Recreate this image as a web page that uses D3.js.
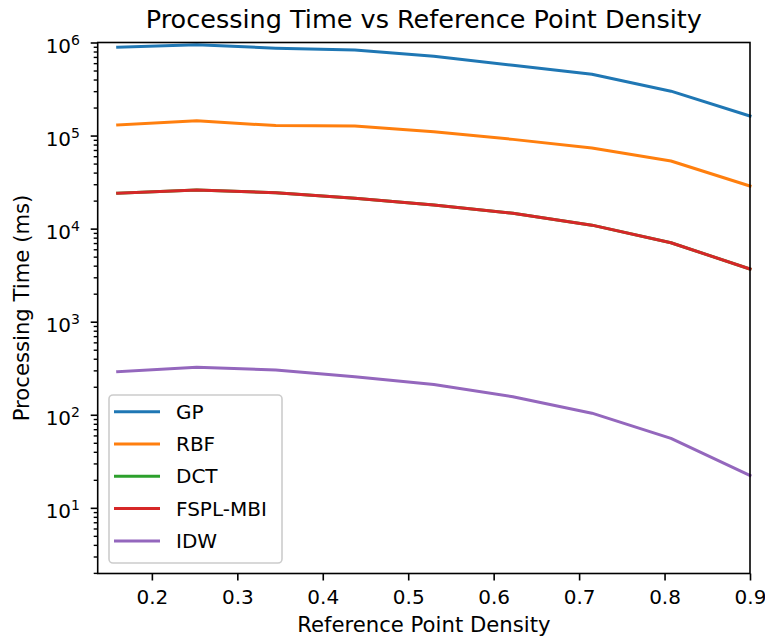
<!DOCTYPE html>
<html>
<head>
<meta charset="utf-8">
<script src="https://cdn.jsdelivr.net/npm/d3@7"></script>
<style>
  body { margin: 0; background: #fff; }
  text { font-family: "DejaVu Sans", sans-serif; fill: #000; }
</style>
</head>
<body>
<script>
const width = 765;
const height = 638;
const margin = ({top: 42.5, right: 15, bottom: 64.5, left: 97.7});

// x values (reference point density)
const density = [0.16, 0.2525, 0.345, 0.4375, 0.53, 0.6225, 0.715, 0.8075, 0.9];

// processing time (ms) per method
const gp   = [8.9e5, 9.45e5, 8.7e5, 8.3e5, 7.1e5, 5.7e5, 4.55e5, 3.0e5, 1.62e5];
const rbf  = [1.30e5, 1.44e5, 1.28e5, 1.27e5, 1.10e5, 9.1e4, 7.35e4, 5.33e4, 2.87e4];
const dct  = [2.40e4, 2.60e4, 2.43e4, 2.12e4, 1.79e4, 1.46e4, 1.09e4, 7.06e3, 3.68e3];
const fspl = [2.40e4, 2.60e4, 2.43e4, 2.12e4, 1.79e4, 1.46e4, 1.09e4, 7.06e3, 3.68e3];
const idw  = [290, 324, 303, 256, 212, 156, 104, 55.8, 22.3];

const seriesNames = ["GP", "RBF", "DCT", "FSPL-MBI", "IDW"];
const seriesValues = [gp, rbf, dct, fspl, idw];
const colors = ["#1f77b4", "#ff7f0e", "#2ca02c", "#d62728", "#9467bd"];

const xTicks = [0.2, 0.3, 0.4, 0.5, 0.6, 0.7, 0.8, 0.9];
const yExponents = [1, 2, 3, 4, 5, 6];

const svg = d3.select("body")
  .append("svg")
  .attr("width", width)
  .attr("height", height);

svg.append("rect").attr("width", width).attr("height", height).attr("fill", "#fff");

const x = d3.scaleLinear()
  .domain([0.1366, 0.9])
  .range([margin.left, width - margin.right]);

const y = d3.scaleLog()
  .domain([1.97, 1e6])
  .range([height - margin.bottom, margin.top]);

// lines
const line = d3.line()
  .x((d, i) => x(density[i]))
  .y(d => y(d));

svg.append("g")
  .selectAll("path")
  .data(seriesValues)
  .join("path")
  .attr("d", d => line(d))
  .attr("fill", "none")
  .attr("stroke", (d, i) => colors[i])
  .attr("stroke-width", 3)
  .attr("stroke-linejoin", "round")
  .attr("stroke-linecap", "square");

// minor ticks on log axis
const minorTicks = [];
for (let e = 0; e <= 5; e++) {
  for (let m = 2; m <= 9; m++) {
    const v = m * Math.pow(10, e);
    if (v >= 1.97 && v <= 1e6) minorTicks.push(v);
  }
}

svg.append("g")
  .attr("transform", `translate(${margin.left},0)`)
  .call(d3.axisLeft(y).tickValues(minorTicks).tickSize(4).tickFormat(""))
  .call(g => g.select(".domain").remove())
  .call(g => g.selectAll("line").attr("stroke", "#000").attr("stroke-width", 1.4));

const yAxis = svg.append("g")
  .attr("transform", `translate(${margin.left},0)`)
  .call(d3.axisLeft(y).tickValues(yExponents.map(e => Math.pow(10, e))).tickSize(7).tickFormat(""))
  .call(g => g.select(".domain").remove())
  .call(g => g.selectAll("line").attr("stroke", "#000").attr("stroke-width", 1.6));

yAxis.selectAll(".tick").each(function(d) {
  const t = d3.select(this).append("text")
    .attr("x", -17.7)
    .attr("y", 10)
    .attr("text-anchor", "end")
    .attr("font-size", 20)
    .style("fill", "#000");
  t.append("tspan").text("10");
  t.append("tspan")
    .attr("dy", -8)
    .attr("font-size", 14)
    .text(Math.round(Math.log10(d)));
});

// x axis
const xAxis = svg.append("g")
  .attr("transform", `translate(0,${height - margin.bottom})`)
  .call(d3.axisBottom(x).tickValues(xTicks).tickSize(7).tickPadding(9).tickFormat(d3.format(".1f")))
  .call(g => g.select(".domain").remove())
  .call(g => g.selectAll("line").attr("stroke", "#000").attr("stroke-width", 1.6));

xAxis.selectAll("text")
  .attr("font-size", 20)
  .attr("font-family", "DejaVu Sans, sans-serif")
  .style("fill", "#000");

// frame
svg.append("rect")
  .attr("x", margin.left)
  .attr("y", margin.top)
  .attr("width", width - margin.right - margin.left)
  .attr("height", height - margin.bottom - margin.top)
  .attr("fill", "none")
  .attr("stroke", "#000")
  .attr("stroke-width", 1.6);

// title and labels
svg.append("text")
  .attr("x", (margin.left + width - margin.right) / 2)
  .attr("y", 28)
  .attr("text-anchor", "middle")
  .attr("font-size", 25.5)
  .text("Processing Time vs Reference Point Density");

svg.append("text")
  .attr("x", (margin.left + width - margin.right) / 2)
  .attr("y", 632)
  .attr("text-anchor", "middle")
  .attr("font-size", 21.2)
  .text("Reference Point Density");

svg.append("text")
  .attr("transform", `translate(29,${(margin.top + height - margin.bottom) / 2}) rotate(-90)`)
  .attr("text-anchor", "middle")
  .attr("font-size", 21.2)
  .text("Processing Time (ms)");

// legend
const legend = svg.append("g");

legend.append("rect")
  .attr("x", 109)
  .attr("y", 395)
  .attr("width", 173)
  .attr("height", 168)
  .attr("rx", 4)
  .attr("fill", "#fff")
  .attr("fill-opacity", 0.8)
  .attr("stroke", "#cccccc")
  .attr("stroke-width", 1.6);

const items = legend.selectAll("g.item")
  .data(seriesNames)
  .join("g")
  .attr("class", "item")
  .attr("transform", (d, i) => `translate(0,${411.7 + i * 32.3})`);

items.append("line")
  .attr("x1", 114)
  .attr("x2", 160)
  .attr("stroke", (d, i) => colors[i])
  .attr("stroke-width", 3);

items.append("text")
  .attr("x", 176)
  .attr("y", 7)
  .attr("font-size", 20)
  .text(d => d);
</script>
</body>
</html>
